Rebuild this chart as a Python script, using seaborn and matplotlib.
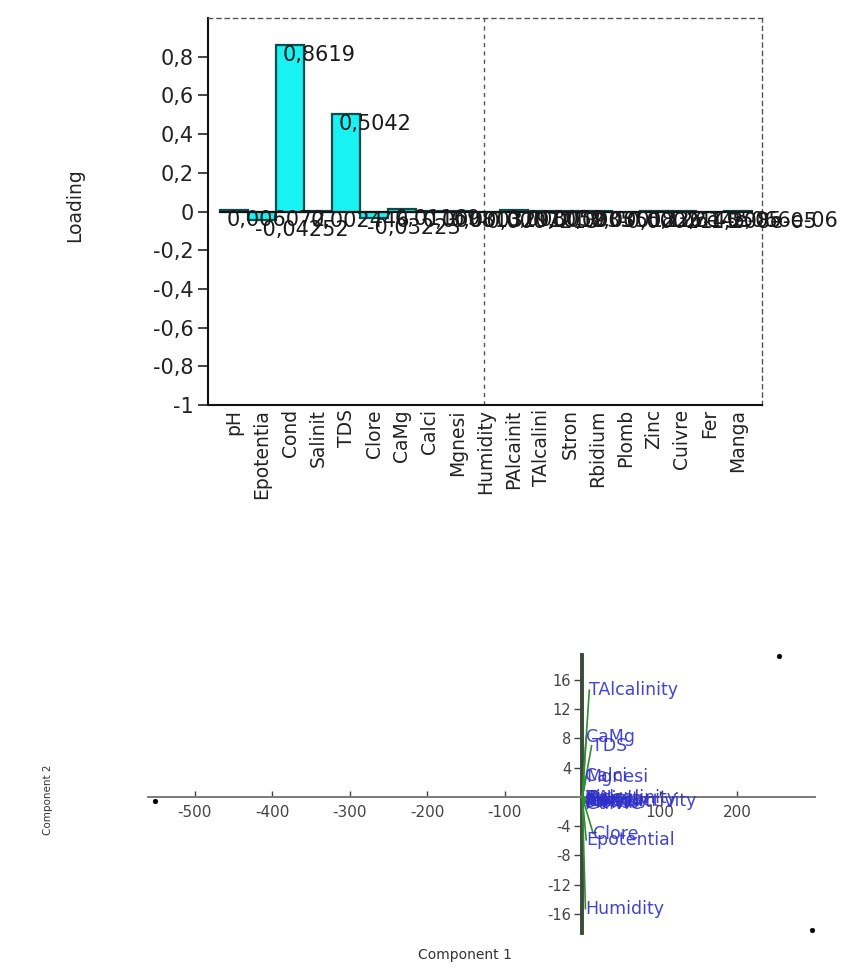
import matplotlib
matplotlib.use("Agg")
import matplotlib.pyplot as plt
import seaborn as sns
import pandas as pd

sns.set_theme(style="white")
plt.rcParams['font.family'] = ['DejaVu Sans']

# ---------------- data ----------------
bar_labels = ["pH", "Epotentia", "Cond", "Salinit", "TDS", "Clore", "CaMg", "Calci",
              "Mgnesi", "Humidity", "PAlcainit", "TAlcalini", "Stron", "Rbidium",
              "Plomb", "Zinc", "Cuivre", "Fer", "Manga"]
loadings = [0.006072, -0.04252, 0.8619, 0.002446, 0.5042, -0.03223, 0.01169, 0.0008137,
            0.0003291, -0.0007213, 0.008052, 0.001935, 0.0003508, 0.0001226,
            -0.0002145, 5.122e-05, 3.614e-05, -1.208e-05, 5.066e-06]
loading_ticks = [-1, -0.8, -0.6, -0.4, -0.2, 0, 0.2, 0.4, 0.6, 0.8]

bi_names = ["pH", "Epotential", "Conductivity", "Salinity", "TDS", "Clore", "CaMg", "Calci",
            "Mgnesi", "Humidity", "PAlcalinity", "TAlcalinity", "Stron", "Rbidium",
            "Plomb", "Zinc", "Cuivre", "Fer", "Manga"]
bi_x = [3, 5, 6, 4, 12, 14, 5, 4, 5, 4, 7, 9, 3, 2, 4, 3, 5, 2, 3]
bi_y = [-0.4, -5.9, -0.6, -0.3, 7.0, -5.0, 8.2, 2.8, 2.7, -15.3, -0.2, 14.6,
        -0.7, -0.5, -0.8, -0.2, -0.9, -0.6, -0.3]
score_x = [-551, 253, 296]
score_y = [-0.6, 19.2, -18.2]
comp1_ticks = [-500, -400, -300, -200, -100, 100, 200]
comp2_ticks = [-16, -12, -8, -4, 4, 8, 12, 16]

W, H = 857, 974
fig = plt.figure(figsize=(W / 100, H / 100), dpi=100)
fig.patch.set_facecolor("white")

# ---------------- top: loadings bar chart ----------------
ax = fig.add_axes([208 / W, 1 - 405 / H, (762 - 208) / W, (405 - 18) / H])
df = pd.DataFrame({"var": bar_labels, "loading": loadings})
sns.barplot(data=df, x="var", y="loading", color="#19F2F2", saturation=1,
            edgecolor="#0b4d4d", linewidth=1.6, width=1.0, ax=ax)
n = len(bar_labels)
ax.plot([-0.5, n - 0.5], [0, 0], color="#111111", lw=1.5, zorder=3)
for i, v in enumerate(loadings):
    ax.text(i - 0.25, v, f"{v:.4g}".replace(".", ","), ha="left", va="top",
            fontsize=15, color="#1a1a1a", zorder=4, clip_on=False)
ax.set_xlim(-0.93, 18.86)
ax.set_ylim(-1, 1)
ax.set_yticks(loading_ticks)
ax.set_yticklabels([f"{t:g}".replace(".", ",") for t in loading_ticks])
ax.tick_params(axis="y", direction="out", length=7, width=1.2, labelsize=15,
               colors="#222222", left=True)
ax.tick_params(axis="x", length=0, labelsize=13.5, labelrotation=90, pad=3,
               colors="#222222")
ax.set_xlabel("")
ax.set_ylabel("")
for s in ["left", "bottom"]:
    ax.spines[s].set_color("#111111")
    ax.spines[s].set_linewidth(1.5)
for s in ["top", "right"]:
    ax.spines[s].set_color("#555555")
    ax.spines[s].set_linewidth(1.0)
    ax.spines[s].set_linestyle((0, (3, 3)))
ax.axvline(8.93, color="#555555", lw=1.0, ls=(0, (3, 3)), zorder=0)
fig.text(75 / W, 1 - 205 / H, "Loading", rotation=90, ha="center", va="center",
         fontsize=13.5, color="#222222")

# ---------------- bottom: biplot ----------------
ax2 = fig.add_axes([148 / W, 1 - 933 / H, (815 - 148) / W, (933 - 655) / H])
ax2.set_xlim(-560, 300)
ax2.set_ylim(-18.6, 19.4)
ax2.set_facecolor("white")
for s in ["top", "right"]:
    ax2.spines[s].set_visible(False)
ax2.spines["left"].set_position(("data", 0))
ax2.spines["bottom"].set_position(("data", 0))
ax2.spines["left"].set_color("#3b4a3b")
ax2.spines["left"].set_linewidth(2.8)
ax2.spines["bottom"].set_color("#7a7a7a")
ax2.spines["bottom"].set_linewidth(1.4)

for x, y in zip(bi_x, bi_y):
    ax2.plot([0, x], [0, y], color="#2f8f2f", lw=1.2, zorder=3)
for name, x, y in zip(bi_names, bi_x, bi_y):
    ax2.text(x, y, name, ha="left", va="center", fontsize=12.5, color="#3030c8",
             alpha=0.9, zorder=4)

sns.scatterplot(x=score_x, y=score_y, color="black", s=12, marker="o",
                edgecolor="black", ax=ax2, zorder=5, clip_on=False)

ax2.set_xticks(comp1_ticks)
ax2.set_xticklabels([str(t) for t in comp1_ticks])
ax2.set_yticks(comp2_ticks)
ax2.set_yticklabels([str(t) for t in comp2_ticks])
ax2.tick_params(axis="x", direction="in", length=4, width=1, labelsize=11,
                colors="#444444", pad=6, bottom=True)
ax2.tick_params(axis="y", direction="out", length=6, width=1, labelsize=10.5,
                colors="#444444", pad=2, left=True)
ax2.set_xlabel("")
ax2.set_ylabel("")

fig.text(465 / W, 1 - 955 / H, "Component 1", ha="center", va="center",
         fontsize=10, color="#333333")
fig.text(48 / W, 1 - 800 / H, "Component 2", rotation=90, ha="center", va="center",
         fontsize=7.5, color="#333333")

fig.savefig("out.png", dpi=100, facecolor="white")
